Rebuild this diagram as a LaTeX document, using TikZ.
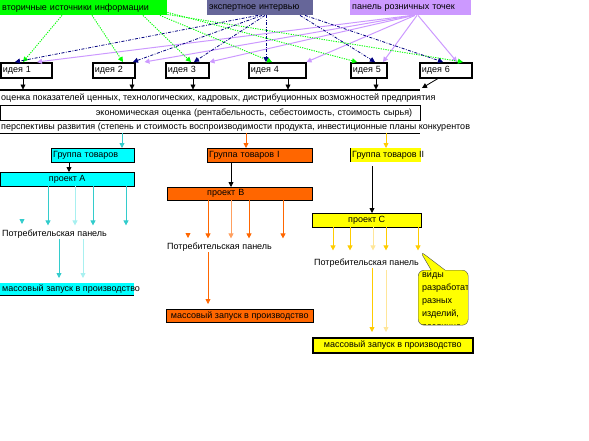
\documentclass[tikz,border=0pt]{standalone}
\usepackage{fontspec}
\setmainfont{Liberation Sans}
\usetikzlibrary{arrows.meta,shapes.callouts}
\definecolor{cgreen}{HTML}{00FF00}
\definecolor{cslate}{HTML}{666699}
\definecolor{cpurple}{HTML}{CC99FF}
\definecolor{cnavy}{HTML}{000080}
\definecolor{ccyan}{HTML}{00FFFF}
\definecolor{cteal}{HTML}{33CCCC}
\definecolor{cpaleteal}{HTML}{A8F0F0}
\definecolor{corange}{HTML}{FF6600}
\definecolor{cpaleorange}{HTML}{FFA060}
\definecolor{cyellow}{HTML}{FFFF00}
\definecolor{cgold}{HTML}{FFCC00}
\definecolor{cpalegold}{HTML}{FFE699}
\begin{document}
\begin{tikzpicture}[x=1pt,y=-1pt,
  every node/.style={font=\fontsize{9}{10}\selectfont},
  tip/.style={-{Triangle[width=5pt,length=5pt]}},
  src/.style={anchor=north west, inner sep=0pt, inner xsep=2pt, align=left, minimum height=15pt},
  idea/.style={anchor=north west, draw, line width=1.5pt, inner sep=0pt, inner xsep=2pt, align=left, minimum height=15pt},
  fillbox/.style={anchor=north west, inner sep=0pt, inner xsep=2pt, minimum height=14pt},
  plain/.style={anchor=west, inner sep=0pt},
  gline/.style={cgreen, line width=0.9pt, dash pattern=on 1.2pt off 1.2pt, tip},
  nline/.style={cnavy, line width=0.8pt, dash pattern=on 3pt off 1.5pt on 0.8pt off 1.5pt, tip},
  pline/.style={cpurple, line width=1pt, tip},
  kline/.style={black, line width=0.8pt, tip},
  tline/.style={cteal, line width=0.8pt, tip},
  oline/.style={corange, line width=0.8pt, tip},
  yline/.style={cgold, line width=0.8pt, tip}
]
\useasboundingbox (0,0) rectangle (589,440);

% sources
\node[src, fill=cgreen, text width=163pt] (s1) at (0,0) {вторичные источники информации};
\node[src, fill=cslate, text width=102pt] (s2) at (207,0) {экспертное интервью};
\node[src, fill=cpurple, text width=117pt] (s3) at (350,0) {панель розничных точек};

% ideas
\node[idea, text width=47pt] (i1) at (0,62) {идея 1};
\node[idea, text width=38pt] (i2) at (92,62) {идея 2};
\node[idea, text width=39pt] (i3) at (165,62) {идея 3};
\node[idea, text width=53pt] (i4) at (248,62) {идея 4};
\node[idea, text width=32pt] (i5) at (350,62) {идея 5};
\node[idea, text width=48pt] (i6) at (419,62) {идея 6};

% purple connectors
\draw[pline] ([xshift=62pt]s3.south west) -- ([xshift=37pt]i1.north west);
\draw[pline] ([xshift=63pt]s3.south west) -- ([xshift=9pt]i2.north east);
\draw[pline] ([xshift=64pt]s3.south west) -- (i3.north east);
\draw[pline] ([xshift=65pt]s3.south west) -- (i4.north east);
\draw[pline] ([xshift=67pt]s3.south west) -- ([xshift=33pt]i5.north west);
\draw[pline] ([xshift=68pt]s3.south west) -- ([xshift=38pt]i6.north west);

% green connectors
\draw[gline] ([xshift=62pt]s1.south west) -- ([xshift=23pt]i1.north west);
\draw[gline] ([xshift=92pt]s1.south west) -- ([xshift=31pt]i2.north west);
\draw[gline] ([xshift=143pt]s1.south west) -- ([xshift=26pt]i3.north west);
\draw[gline] ([xshift=160pt]s1.south west) -- ([xshift=24pt]i4.north west);
\draw[gline] ([yshift=3pt]s1.south east) -- ([xshift=7pt]i5.north west);
\draw[gline] ([yshift=1pt]s1.south east) -- ([xshift=44pt]i6.north west);

% navy connectors
\draw[nline] ([xshift=51pt]s2.south west) -- ([xshift=15pt]i1.north west);
\draw[nline] ([xshift=55pt]s2.south west) -- ([xshift=41pt]i2.north west);
\draw[nline] ([xshift=58pt]s2.south west) -- ([xshift=29pt]i3.north west);
\draw[nline] ([xshift=59pt]s2.south west) -- ([xshift=18pt]i4.north west);
\draw[nline] ([xshift=93pt]s2.south west) -- ([xshift=25pt]i5.north west);
\draw[nline] ([xshift=98pt]s2.south west) -- ([xshift=24pt]i6.north west);

% line under ideas
\coordinate (la) at (0,90);
\coordinate (lb) at (420,90);
\draw[line width=2pt] (la) -- (lb);
\draw[kline] ([xshift=23pt]i1.south west) -- ++(0,11);
\draw[kline] ([xshift=40pt]i2.south west) -- ++(0,11);
\draw[kline] ([xshift=28pt]i3.south west) -- ++(0,11);
\draw[kline] ([xshift=40pt]i4.south west) -- ++(0,11);
\draw[kline] ([xshift=26pt]i5.south west) -- ++(0,11);
\draw[kline] ([xshift=19pt]i6.south west) -- ([xshift=2pt,yshift=2pt]lb);

% rows
\node[plain] (t1) at (1,98) {оценка показателей ценных, технологических, кадровых, дистрибуционных возможностей предприятия};
\node[draw, anchor=north west, inner sep=0pt, inner xsep=8pt, text width=404pt, align=right, minimum height=15pt] (t2) at (0,105) {экономическая оценка (рентабельность, себестоимость, стоимость сырья)};
\draw[line width=1.5pt] (t2.south west) -- (t2.south east);
\node[plain] (t3) at (1,127) {перспективы развития (степень и стоимость воспроизводимости продукта, инвестиционные планы конкурентов};
\coordinate (pa) at (0,133);
\coordinate (pb) at (420,133);
\draw (pa) -- (pb);
\coordinate (gc) at (122,133);
\coordinate (go) at (246,133);
\coordinate (gy) at (386,133);

% groups
\node[fillbox, draw, fill=ccyan, text width=79pt, align=left] (g1) at (51,148) {Группа товаров};
\node[fillbox, draw, fill=corange, text width=101pt, align=left] (g2) at (207,148) {Группа товаров I};
\fill[cyellow] (350,148) rectangle (421,162);
\draw (350,148) -- (350,162);
\node[fillbox, align=left] (g3) at (350,148) {Группа товаров II};
\draw[tline] (gc) -- ([xshift=71pt]g1.north west);
\draw[oline] (go) -- ([xshift=39pt]g2.north west);
\draw[yline] (gy) -- ([xshift=36pt]g3.north west);

% projects
\node[fillbox, draw, fill=ccyan, minimum width=134pt] (pA) at (0,172) {проект А};
\node[fillbox, draw, fill=corange, text width=141pt, minimum height=13pt, align=left] (pB) at (167,187) {\hspace*{38pt}проект В};
\node[fillbox, draw, fill=cyellow, minimum width=109pt] (pC) at (312,213) {проект С};
\draw[kline] ([xshift=18pt]g1.south west) -- ([xshift=69pt]pA.north west);
\draw[kline] ([xshift=24pt]g2.south west) -- ([xshift=64pt]pB.north west);
\draw[kline] ([xshift=22pt,yshift=-4pt]g3.south west) -- ([xshift=60pt]pC.north west);

% project A arrows
\draw[tline] ([xshift=48pt]pA.south west) -- ++(0,39);
\draw[tline, cpaleteal] ([xshift=75pt]pA.south west) -- ++(0,39);
\draw[tline] ([xshift=93pt]pA.south west) -- ++(0,39);
\draw[tline] ([xshift=126pt]pA.south west) -- ++(0,39);
\coordinate (hA) at (22,219);
\draw[tline] (hA) -- ++(0,5);

% project B arrows
\draw[oline] ([xshift=41pt]pB.south west) -- ++(0,38);
\draw[oline, cpaleorange] ([xshift=64pt]pB.south west) -- ++(0,38);
\draw[oline] ([xshift=82pt]pB.south west) -- ++(0,38);
\draw[oline] ([xshift=116pt]pB.south west) -- ++(0,38);
\coordinate (hB) at (188,233);
\draw[oline] (hB) -- ++(0,5);

% project C arrows
\draw[yline] ([xshift=21pt]pC.south west) -- ++(0,23);
\draw[yline] ([xshift=38pt]pC.south west) -- ++(0,23);
\draw[yline, cpalegold] ([xshift=61pt]pC.south west) -- ++(0,23);
\draw[yline] ([xshift=74pt]pC.south west) -- ++(0,23);
\draw[yline] ([xshift=106pt]pC.south west) -- ++(0,23);

% consumer panels
\node[plain] (cp1) at (2,234) {Потребительская панель};
\node[plain] (cp2) at (167,247) {Потребительская панель};
\node[plain] (cp3) at (314,263) {Потребительская панель};

% mass launch
\fill[ccyan] (0,283) rectangle (134,295);
\draw (0,295) -- (134,295);
\node[fillbox, minimum height=12pt, align=left] (m1) at (0,283) {массовый запуск в производство};
\node[fillbox, draw, fill=corange, minimum width=147pt, minimum height=13pt] (m2) at (166,309) {массовый запуск в производство};
\node[fillbox, draw, line width=1.5pt, fill=cyellow, minimum width=160pt, minimum height=15pt] (m3) at (312,337) {массовый запуск в производство};

\draw[tline] ([xshift=57pt,yshift=-1pt]cp1.south west) -- ([xshift=59pt,yshift=5pt]m1.north west);
\draw[tline, cpaleteal] ([xshift=81pt,yshift=-1pt]cp1.south west) -- ([xshift=83pt,yshift=5pt]m1.north west);
\draw[oline] ([xshift=41pt,yshift=-1pt]cp2.south west) -- ([xshift=42pt,yshift=5pt]m2.north west);
\draw[yline] ([xshift=58pt,yshift=-1pt]cp3.south west) -- ([xshift=60pt,yshift=5pt]m3.north west);
\draw[yline, cpalegold] ([xshift=72pt,yshift=-3pt]cp3.south west) -- ([xshift=74pt,yshift=5pt]m3.north west);

% callout
\node[rectangle callout, rounded corners=6pt, draw=black!70, fill=cyellow, anchor=north west,
      minimum width=50pt, minimum height=55pt, inner sep=0pt, callout pointer width=14pt,
      callout absolute pointer={(420,251)}] (cl) at (418,270) {};
\begin{scope}
\clip (419,271) rectangle (467,324);
\node[anchor=north west, inner sep=0pt, align=left, font=\fontsize{9}{13}\selectfont] (clt) at (422,273) {виды\\разработать\\разных\\изделий,\\различно};
\end{scope}
\end{tikzpicture}
\end{document}
